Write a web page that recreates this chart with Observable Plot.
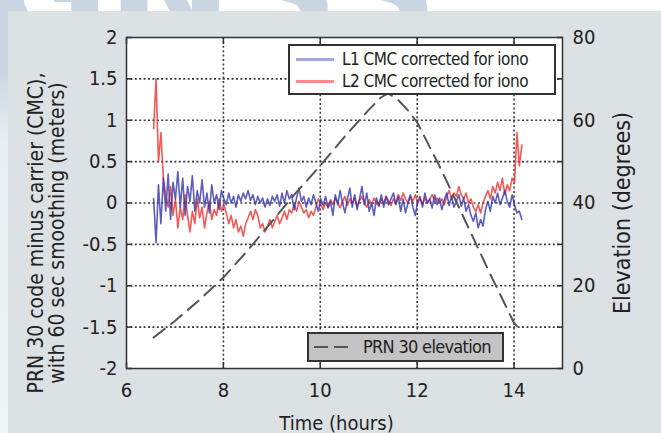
<!DOCTYPE html>
<html><head><meta charset="utf-8">
<script src="https://cdn.jsdelivr.net/npm/d3@7"></script>
<script src="https://cdn.jsdelivr.net/npm/@observablehq/plot@0.6"></script>
<style>
html,body{margin:0;padding:0;background:#fff;}
#wrap{position:relative;width:661px;height:433px;overflow:hidden;font-family:"DejaVu Sans Condensed",sans-serif;color:#222;}
#wm{position:absolute;left:-14px;top:-95px;font:bold 150px "DejaVu Sans",sans-serif;color:#c9d6e1;letter-spacing:-2px;white-space:nowrap;}
#strip{position:absolute;left:0;top:0;width:8px;height:433px;background:linear-gradient(#c9d6e1 0px,#c9d6e1 70px,#e9eef2 140px,#f1f4f6 433px);}
#panel{position:absolute;left:8px;top:11px;right:0;bottom:0;background:#dce1e4;}
#chart{position:absolute;left:0;top:0;}
.leg{position:absolute;border:2px solid #333;box-sizing:border-box;font-size:17px;letter-spacing:-0.5px;}
.sw{position:absolute;height:3px;}
.lt{position:absolute;line-height:20px;white-space:nowrap;}
</style></head>
<body>
<div id="wrap">
  <div id="wm">GNSS</div>
  <div id="strip"></div>
  <div id="panel"></div>
  <div id="chart"></div>
  <div class="leg" style="left:288px;top:44px;width:268px;height:51px;background:#fff;">
    <div class="sw" style="left:6px;top:12px;width:38px;background:rgba(60,60,180,0.45);"></div>
    <div class="lt" id="lab1" style="left:52px;top:3px;"></div>
    <div class="sw" style="left:6px;top:34px;width:38px;background:rgba(240,50,50,0.55);"></div>
    <div class="lt" id="lab2" style="left:52px;top:25px;"></div>
  </div>
  <div class="leg" style="left:307px;top:332px;width:197px;height:30px;background:#c4c4c4;font-size:18px;letter-spacing:-0.7px;">
    <div class="sw" style="left:5px;top:12px;width:14px;height:2px;background:#555;"></div>
    <div class="sw" style="left:25px;top:12px;width:14px;height:2px;background:#555;"></div>
    <div class="lt" id="lab3" style="left:54px;top:3px;"></div>
  </div>
</div>
<script>
// ---- data ----
const seriesNames = ["L1 CMC corrected for iono", "L2 CMC corrected for iono", "PRN 30 elevation"];
const xTitle = "Time (hours)";
const yTitle = "PRN 30 code minus carrier (CMC),\nwith 60 sec smoothing (meters)";
const y2Title = "Elevation (degrees)";
const startHour = 6.56, stepHour = 0.05;
const L1 = [0.05,-0.48,0.22,-0.25,0.3,-0.1,0.35,-0.2,0.25,0.05,
  0.38,-0.05,0.3,-0.15,0.2,0.02,0.33,-0.1,0.15,0.0,
  0.28,-0.05,0.12,-0.12,0.22,0.0,0.1,-0.08,0.15,0.05,
  -0.02,0.12,0.0,0.08,-0.05,0.1,0.02,0.12,0.05,0.15,
  0.03,0.1,-0.02,0.08,0.0,0.06,-0.05,0.05,-0.03,0.08,
  0.02,0.1,-0.04,0.12,0.0,0.15,0.05,0.1,-0.08,0.06,
  0.18,0.02,0.08,-0.05,0.06,-0.02,0.1,0.0,-0.1,0.05,
  -0.03,0.08,-0.06,0.02,-0.15,0.1,-0.02,0.15,0.0,-0.12,
  0.05,0.18,-0.05,0.1,-0.08,0.05,0.2,-0.02,0.12,-0.1,
  0.0,-0.15,0.06,-0.03,0.1,-0.05,0.08,-0.02,0.05,0.12,
  -0.02,0.08,-0.1,0.05,-0.12,0.0,0.1,-0.05,-0.15,0.02,
  0.08,-0.05,0.12,0.0,0.05,-0.06,0.1,-0.02,0.06,-0.08,
  0.04,0.12,-0.03,0.08,-0.05,0.02,0.1,-0.04,0.06,-0.1,
  -0.02,-0.15,-0.22,-0.12,-0.3,-0.2,-0.28,-0.08,0.02,-0.1,
  0.08,0.0,0.12,-0.02,0.06,0.15,0.02,-0.05,0.1,-0.02,
  -0.12,-0.1,-0.2];
const L2 = [0.9,1.5,0.5,0.85,0.3,0.1,-0.05,0.2,-0.15,0.05,
  -0.3,-0.05,-0.2,0.1,-0.15,-0.35,-0.1,-0.25,0.05,-0.18,
  -0.05,-0.3,-0.12,0.02,-0.2,-0.08,-0.15,0.05,-0.1,-0.02,
  -0.12,-0.25,-0.15,-0.3,-0.2,-0.35,-0.28,-0.4,-0.25,-0.18,
  -0.1,-0.2,-0.08,-0.15,-0.3,-0.25,-0.35,-0.28,-0.2,-0.3,
  -0.22,-0.15,-0.25,-0.18,-0.1,-0.2,-0.08,-0.12,-0.02,-0.1,
  0.02,-0.05,-0.12,-0.08,-0.18,-0.1,-0.15,-0.05,0.05,-0.02,
  -0.08,0.0,-0.05,0.04,-0.02,0.06,0.0,-0.06,0.02,0.08,
  -0.03,0.05,0.0,0.06,-0.04,0.03,0.08,0.0,-0.05,0.04,
  -0.02,0.06,0.0,-0.04,0.05,0.0,0.08,0.02,-0.03,0.05,
  0.0,0.1,0.03,0.12,0.05,0.0,0.08,0.02,0.1,0.0,
  0.05,-0.02,0.06,0.0,0.04,0.1,0.02,0.06,0.0,0.05,
  -0.02,0.08,0.15,0.05,0.12,0.08,0.2,0.1,0.05,0.12,
  0.0,0.05,-0.05,-0.1,-0.02,-0.12,0.0,0.08,0.15,0.05,
  0.2,0.12,0.25,0.15,0.3,0.1,0.22,0.15,0.3,0.25,
  0.85,0.45,0.7];
const elevHours = [6.56,7.0,7.5,8.0,8.5,9.0,9.5,10.0,10.5,11.0,11.25,11.4,11.6,11.8,12.0,12.5,13.0,13.5,14.0,14.16];
const elevDeg   = [7.5,11.5,16.5,22.0,28.5,35.5,42.5,49.0,56.0,62.5,65.5,66.5,65.0,62.5,59.5,48.0,35.5,23.0,11.0,9.0];
const xTicks = [6,8,10,12,14];
const yTicks = [-2,-1.5,-1,-0.5,0,0.5,1,1.5,2];
const elevTicks = [0,20,40,60,80];

// ---- build ----
const hourAt = i => +(startHour + i*stepHour).toFixed(2);
const rowsL1 = L1.map((v,i)=>({t:hourAt(i), v}));
const rowsL2 = L2.map((v,i)=>({t:hourAt(i), v}));
const elevRows = elevHours.map((t,i)=>({t, e:elevDeg[i]}));
const toY = e => e/20 - 2;   // 0..80 deg -> -2..2 m
const FONT = '"DejaVu Sans Condensed",sans-serif';
const gridStyle = {stroke:"#3a3a3a", strokeWidth:1.6, strokeDasharray:"2,2.4"};

document.getElementById("lab1").textContent = seriesNames[0];
document.getElementById("lab2").textContent = seriesNames[1];
document.getElementById("lab3").textContent = seriesNames[2];

const chart = Plot.plot({
  width:661, height:433,
  marginLeft:126, marginRight:99, marginTop:37, marginBottom:65,
  style:{background:"transparent", fontFamily:FONT, fontSize:"20px", color:"#222"},
  x:{domain:[6,15]},
  y:{domain:[-2,2]},
  marks:[
    Plot.frame({fill:"#fff"}),
    Plot.ruleX(xTicks.slice(1), gridStyle),
    Plot.ruleY(yTicks.slice(1,-1), gridStyle),
    Plot.line(rowsL2, {x:"t", y:"v", stroke:"#f03030", strokeWidth:1.6, strokeOpacity:0.8}),
    Plot.line(rowsL1, {x:"t", y:"v", stroke:"#3434aa", strokeWidth:1.6, strokeOpacity:0.8}),
    Plot.line(elevRows, {x:"t", y:d=>toY(d.e), stroke:"#555", strokeWidth:2, strokeDasharray:"14,8"}),
    Plot.frame({stroke:"#333", strokeWidth:1.5}),
    Plot.axisX(xTicks, {anchor:"bottom", tickSize:0, tickPadding:14, label:null, fontSize:20}),
    Plot.axisX(xTicks, {anchor:"bottom", tickSize:-6, tickFormat:()=>"", label:null, stroke:"#333", strokeWidth:1.5}),
    Plot.axisX(xTicks, {anchor:"top", tickSize:-6, tickFormat:()=>"", label:null, stroke:"#333", strokeWidth:1.5}),
    Plot.axisY(yTicks, {anchor:"left", tickSize:0, tickPadding:9, tickFormat:d=>String(d), label:null, fontSize:20}),
    Plot.axisY(yTicks, {anchor:"left", tickSize:-6, tickFormat:()=>"", label:null, stroke:"#333", strokeWidth:1.5}),
    Plot.axisY(yTicks, {anchor:"right", tickSize:-6, tickFormat:()=>"", label:null, stroke:"#333", strokeWidth:1.5}),
    Plot.axisY(elevTicks.map(toY), {anchor:"right", tickSize:0, tickPadding:10, tickFormat:d=>String(Math.round((d+2)*20)), label:null, fontSize:20}),
    Plot.text([xTitle], {frameAnchor:"bottom", textAnchor:"middle", dx:-8, dy:61, fontSize:20, letterSpacing:"-0.8px", fill:"#222"}),
    Plot.text([yTitle], {frameAnchor:"left", textAnchor:"middle", lineAnchor:"middle", rotate:-90, dx:-80, dy:30, fontSize:21, lineHeight:1.0, fill:"#222"}),
    Plot.text([y2Title], {frameAnchor:"right", textAnchor:"middle", lineAnchor:"middle", rotate:-90, dx:60, dy:10, fontSize:23, fill:"#222"})
  ]
});
document.getElementById("chart").appendChild(chart);
</script>
</body></html>
